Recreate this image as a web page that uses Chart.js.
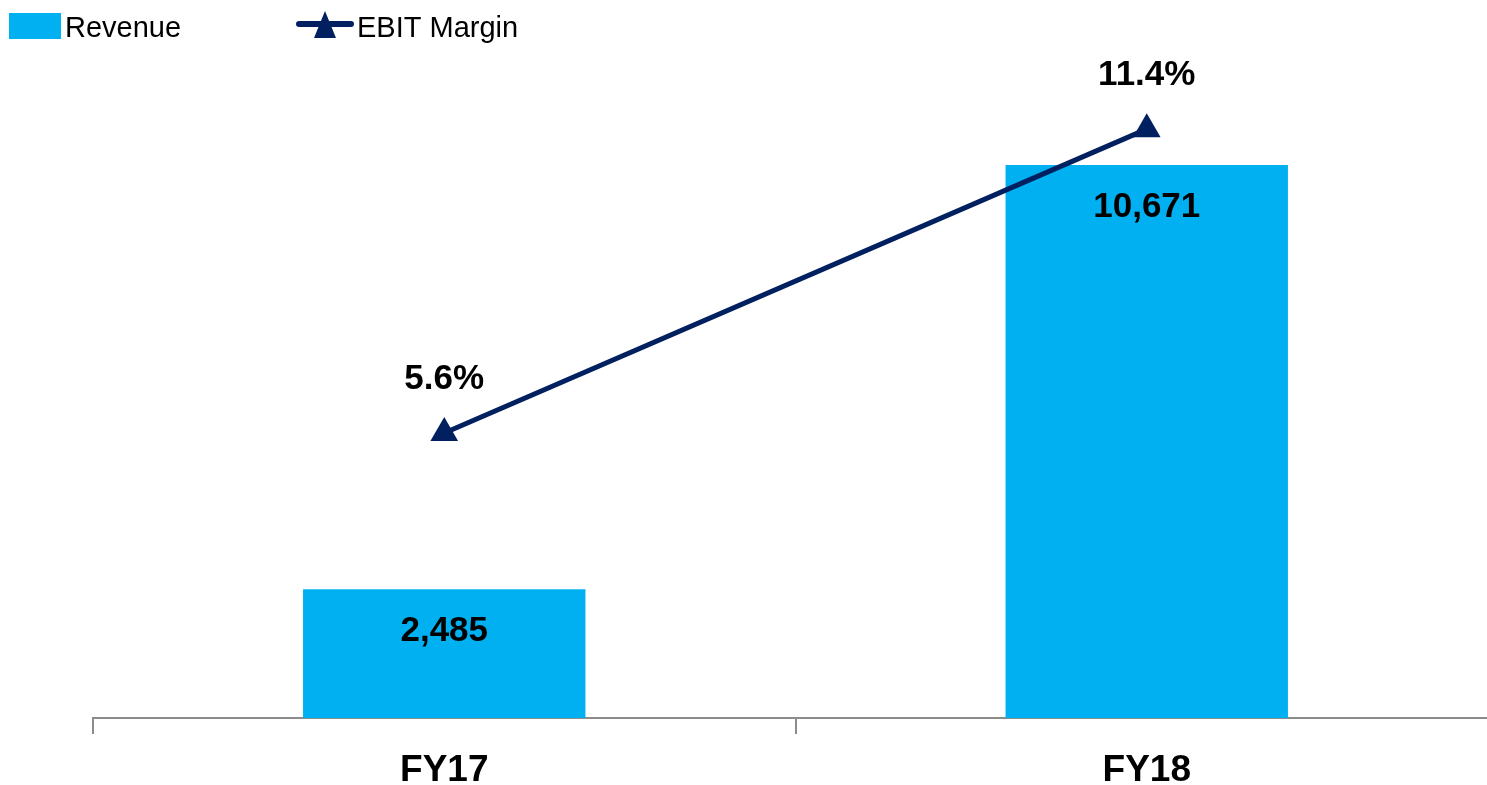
<!DOCTYPE html>
<html>
<head>
<meta charset="utf-8">
<script src="https://cdn.jsdelivr.net/npm/chart.js@4"></script>
<style>
  html, body { margin: 0; padding: 0; background: #fff; }
  #wrap { width: 1487px; height: 785px; overflow: hidden; }
</style>
</head>
<body>
<div id="wrap">
  <canvas id="mainChart" width="1514" height="793"></canvas>
</div>
<script>
// chart data
const categories = ['FY17', 'FY18'];
const revenue = [2485, 10671];
const ebitMargin = [5.6, 11.4];

const BAR_BLUE = '#00B0F0';
const NAVY = '#002060';
const FONT = "'Liberation Sans', Arial, sans-serif";

// draws value labels on bars and above the margin points
const valueLabels = {
    id: 'valueLabels',
    afterDatasetsDraw(chart) {
        const ctx = chart.ctx;
        ctx.save();
        ctx.fillStyle = '#000';
        ctx.font = 'bold 35px ' + FONT;
        ctx.textAlign = 'center';
        ctx.textBaseline = 'middle';
        chart.data.datasets.forEach((ds, di) => {
            const meta = chart.getDatasetMeta(di);
            meta.data.forEach((el, i) => {
                if (ds.type === 'bar') {
                    ctx.fillText(revenue[i].toLocaleString('en-US'), el.x, el.y + 42);
                } else {
                    ctx.fillText(ebitMargin[i].toFixed(1) + '%', el.x, el.y - 54);
                }
            });
        });
        ctx.restore();
    }
};

// custom legend at top left
const topLegend = {
    id: 'topLegend',
    afterDraw(chart) {
        const ctx = chart.ctx;
        ctx.save();
        ctx.fillStyle = BAR_BLUE;
        ctx.fillRect(9, 13, 52, 26);

        ctx.strokeStyle = NAVY;
        ctx.lineWidth = 6;
        ctx.lineCap = 'round';
        ctx.beginPath();
        ctx.moveTo(299, 24);
        ctx.lineTo(351, 24);
        ctx.stroke();
        ctx.fillStyle = NAVY;
        ctx.beginPath();
        ctx.moveTo(325, 11);
        ctx.lineTo(336, 38);
        ctx.lineTo(314, 38);
        ctx.closePath();
        ctx.fill();

        ctx.fillStyle = '#000';
        ctx.font = '29px ' + FONT;
        ctx.textBaseline = 'alphabetic';
        ctx.fillText('Revenue', 65, 37);
        ctx.fillText('EBIT Margin', 357, 37);
        ctx.restore();
    }
};

const ctx = document.getElementById('mainChart').getContext('2d');
new Chart(ctx, {
    data: {
        labels: categories,
        datasets: [
            {
                type: 'line',
                label: 'EBIT Margin',
                data: ebitMargin,
                yAxisID: 'yMargin',
                borderColor: NAVY,
                borderWidth: 5,
                pointStyle: 'triangle',
                pointRadius: 16,
                pointBackgroundColor: NAVY,
                pointBorderWidth: 0,
                tension: 0,
                clip: false,
                order: 0
            },
            {
                type: 'bar',
                label: 'Revenue',
                data: revenue,
                yAxisID: 'yRev',
                backgroundColor: BAR_BLUE,
                categoryPercentage: 1,
                barPercentage: 0.402,
                order: 1
            }
        ]
    },
    options: {
        responsive: false,
        animation: false,
        layout: { padding: { top: 60, left: 93, right: 3, bottom: -14 } },
        plugins: {
            legend: { display: false },
            tooltip: { enabled: false }
        },
        scales: {
            x: {
                offset: true,
                grid: {
                    offset: true,
                    drawOnChartArea: false,
                    drawTicks: true,
                    tickLength: 16,
                    color: '#8c8c8c',
                    lineWidth: 2
                },
                border: { display: true, color: '#8c8c8c', width: 2 },
                ticks: {
                    color: '#000',
                    padding: 18,
                    font: { family: FONT, size: 37, weight: 'bold', lineHeight: 1 }
                }
            },
            yRev: {
                display: false,
                min: 0,
                max: 12700
            },
            yMargin: {
                display: false,
                position: 'right',
                min: 0.16,
                max: 12.72
            }
        }
    },
    plugins: [valueLabels, topLegend]
});
</script>
</body>
</html>
